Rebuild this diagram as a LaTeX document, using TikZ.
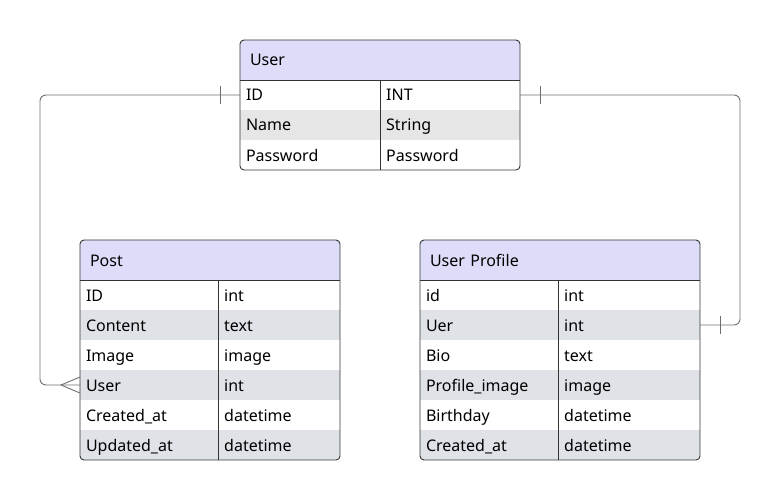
\documentclass[tikz,border=0pt]{standalone}
\usepackage{fontspec}
\setmainfont{Noto Sans}
\definecolor{hdrfill}{HTML}{DDDDFA}
\definecolor{graya}{HTML}{E6E6E6}
\definecolor{grayb}{HTML}{DFE2E7}
\definecolor{linedark}{HTML}{333333}
\definecolor{linegray}{HTML}{6E6E6E}
\tikzset{
  tbl/.style={draw=linedark,line width=0.9pt,rounded corners=4pt},
  sepline/.style={draw=linedark,line width=0.9pt},
  hdr/.style={fill=hdrfill,anchor=north west,inner xsep=10pt,inner ysep=0pt,minimum height=40pt,
    text height=14pt,text depth=2pt,align=left,outer sep=0pt},
  row/.style={anchor=north west,inner xsep=6pt,inner ysep=0pt,minimum height=30pt,
    text height=14pt,text depth=2pt,align=left,outer sep=0pt},
  typ/.style={anchor=west,inner sep=0pt,text height=14pt,text depth=2pt},
  conn/.style={draw=linegray,line width=0.9pt}
}

\begin{document}
\begin{tikzpicture}[x=1pt,y=-1pt,font=\fontsize{16}{19}\selectfont]
      \useasboundingbox (0,0) rectangle (781,500);

      % User
      \begin{scope}
        \clip[rounded corners=4pt] (240,40) rectangle (520,170);
        \node[hdr,text width=260pt] (user) at (240,40) {User};
        \foreach \n/\k/\t/\c [count=\i] in {uid/ID/INT/white,uname/Name/String/graya,upw/Password/Password/white}{
          \node[row,text width=268pt,fill=\c] (\n) at (240,50+30*\i) {\k};
          \node[typ] (\n-t) at ([xshift=146pt]\n.west) {\t};
        }
      \end{scope}
      \draw[tbl] (user.north west) rectangle (upw.south east);
      \draw[sepline] (user.south west) -- (user.south east);
      \draw[sepline] ([xshift=140pt]user.south west) -- ([xshift=140pt]upw.south west);

      % Post
      \begin{scope}
        \clip[rounded corners=4pt] (80,240) rectangle (340,460);
        \node[hdr,text width=240pt] (post) at (80,240) {Post};
        \foreach \n/\k/\t/\c [count=\i] in {pid/ID/int/white,pcont/Content/text/grayb,pimg/Image/image/white,
            pusr/User/int/grayb,pcre/Created\_at/datetime/white,pupd/Updated\_at/datetime/grayb}{
          \node[row,text width=248pt,fill=\c] (\n) at (80,250+30*\i) {\k};
          \node[typ] (\n-t) at ([xshift=144pt]\n.west) {\t};
        }
      \end{scope}
      \draw[tbl] (post.north west) rectangle (pupd.south east);
      \draw[sepline] (post.south west) -- (post.south east);
      \draw[sepline] ([xshift=138pt]post.south west) -- ([xshift=138pt]pupd.south west);

      % User Profile
      \begin{scope}
        \clip[rounded corners=4pt] (420,240) rectangle (700,460);
        \node[hdr,text width=260pt] (prof) at (420,240) {User Profile};
        \foreach \n/\k/\t/\c [count=\i] in {fid/id/int/white,fuer/Uer/int/grayb,fbio/Bio/text/white,
            fimg/Profile\_image/image/grayb,fbday/Birthday/datetime/white,fcre/Created\_at/datetime/grayb}{
          \node[row,text width=268pt,fill=\c] (\n) at (420,250+30*\i) {\k};
          \node[typ] (\n-t) at ([xshift=144pt]\n.west) {\t};
        }
      \end{scope}
      \draw[tbl] (prof.north west) rectangle (fcre.south east);
      \draw[sepline] (prof.south west) -- (prof.south east);
      \draw[sepline] ([xshift=138pt]prof.south west) -- ([xshift=138pt]fcre.south west);

      % relations
      \draw[conn,rounded corners=6pt] (uid.west) -- ++(-200,0) |- (pusr.west);
      \draw[conn] ([xshift=-20pt]uid.west) ++(0,-9) -- ++(0,18);
      \draw[conn] ([yshift=8pt]pusr.west) -- ([xshift=-19pt]pusr.west) -- ([yshift=-8pt]pusr.west);

      \draw[conn,rounded corners=6pt] (uid.east) -- ++(220,0) |- (fuer.east);
      \draw[conn] ([xshift=20pt]uid.east) ++(0,-9) -- ++(0,18);
      \draw[conn] ([xshift=20pt]fuer.east) ++(0,-9) -- ++(0,18);
\end{tikzpicture}
\end{document}
